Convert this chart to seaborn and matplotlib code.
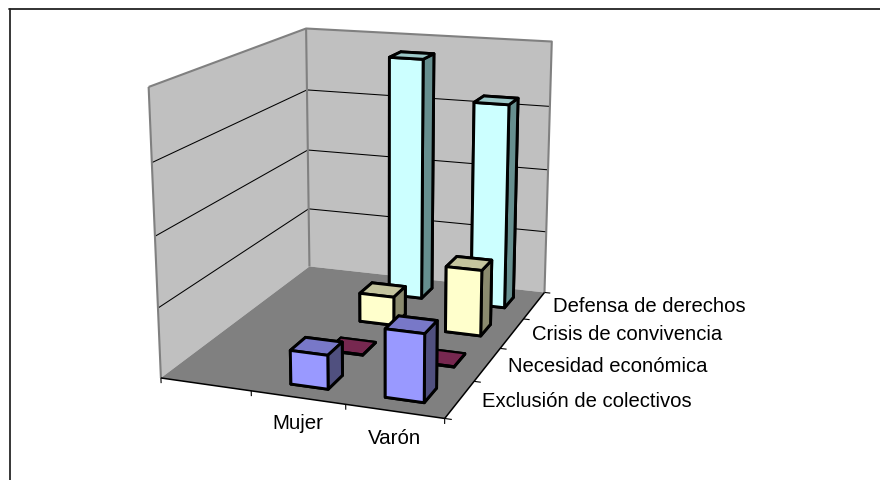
import numpy as np, matplotlib
matplotlib.use('Agg')
import matplotlib.pyplot as plt
import seaborn as sns
from matplotlib.lines import Line2D
from mpl_toolkits.mplot3d.art3d import Poly3DCollection

# --- data ---
genders = ["", "Mujer", "Varón"]
motives = ["Exclusión de colectivos", "Necesidad económica", "Crisis de convivencia", "Defensa de derechos"]
exclusion = [0, 9.6, 19]
necesidad = [0, 0.3, 0.3]
crisis = [0, 8.8, 20]
defensa = [0, 75.6, 63.5]
series = [exclusion, necesidad, crisis, defensa]
z_ticks = [0, 20, 40, 60, 80]

front_colors = ["#9999FF", "#993366", "#FFFFCC", "#CCFFFF"]
top_colors = ["#7878C8", "#772850", "#C4C49E", "#9CC8C8"]
side_colors = ["#50507F", "#50203C", "#8A8A6E", "#668F8F"]

sns.set_theme(style="white")
plt.rcParams['font.family'] = ['Liberation Sans', 'DejaVu Sans']

FW, FH = 880, 481
fig = plt.figure(figsize=(FW / 100, FH / 100), dpi=100, facecolor='white')
ax = fig.add_subplot(projection='3d')
ax.computed_zorder = False
ax.set_axis_off()
ax.set_xticks([])
ax.set_yticks([])
ax.set_zticks([])
for axis in (ax.xaxis, ax.yaxis, ax.zaxis):
    axis.label.set_visible(False)
    axis.offsetText.set_visible(False)
    axis.set_visible(False)
for t in (ax.title, ax._left_title, ax._right_title):
    t.set_visible(False)
ax.view_init(elev=15.15, azim=-69.68, roll=0.2)
ax.set_box_aspect((0.7625, 1, 0.7584), zoom=1.8946)
ax.set_proj_type('persp', focal_length=1)

nx, ny, zmax = len(genders), len(motives), z_ticks[-1]
WALL, FLOOR, EDGE = "#C0C0C0", "#808080", "#808080"

walls = [
    [(0, 0, 0), (0, ny, 0), (0, ny, zmax), (0, 0, zmax)],
    [(0, ny, 0), (nx, ny, 0), (nx, ny, zmax), (0, ny, zmax)],
]
ax.add_collection3d(Poly3DCollection(walls, facecolors=WALL, edgecolors='none', zorder=1, clip_on=False))
ax.add_collection3d(Poly3DCollection([[(0, 0, 0), (nx, 0, 0), (nx, ny, 0), (0, ny, 0)]],
                                     facecolors=FLOOR, edgecolors='none', zorder=1, clip_on=False))


def line(xs, ys, zs, color='black', lw=1.0, zorder=3):
    ax.plot(xs, ys, zs, color=color, lw=lw, zorder=zorder, clip_on=False, solid_capstyle='butt')


for z in z_ticks[1:-1]:
    line([0, 0, nx], [0, ny, ny], [z, z, z], lw=0.75, zorder=2)
# wall borders
line([0, 0], [0, 0], [0, zmax], EDGE, 1.5, 2)
line([0, 0, nx, nx], [0, ny, ny, ny], [zmax, zmax, zmax, 0], EDGE, 1.5, 2)
line([0, 0], [ny, ny], [0, zmax], EDGE, 1.5, 2)
# axis lines and ticks
line([0, nx, nx], [0, 0, ny], [0, 0, 0], lw=1.1)
for i in range(nx + 1):
    line([i, i], [0, 0], [0, -1.5], lw=0.8)
for j in range(ny + 1):
    line([nx, nx + 0.07], [j, j], [0, 0], lw=0.8)

# bars, from back to front
bw = 0.4
order = 10
for j in reversed(range(ny)):
    for i in range(1, nx):
        v = series[j][i]
        faces = [top_colors[j], top_colors[j], front_colors[j], side_colors[j], side_colors[j], side_colors[j]]
        ax.bar3d(i + 0.5 - bw / 2, j + 0.5 - bw / 2, 0, bw, bw, v, color=faces, shade=False,
                 edgecolor='black', linewidth=2.1 if v > 1 else 1.6, zorder=order, clip_on=False)
        order += 1

# category labels
for i, name in enumerate(genders):
    if name:
        ax.text(i + 0.5, 0, -7.2, name, ha='center', va='center', fontsize=14.8, color='black', zorder=60)
for j, name in enumerate(motives):
    ax.text(nx + 0.22, j + 0.5, 0.6, name, ha='left', va='center', fontsize=14.6, color='black', zorder=60)

ax.set_xlim(0, nx, view_margin=0)
ax.set_ylim(0, ny, view_margin=0)
ax.set_zlim(0, zmax, view_margin=0)

# place axes so that the camera matches the reference
s, tx, ty = 1496.48, 367.19, 201.41
vx0, vx1 = ax.viewLim.intervalx
vy0, vy1 = ax.viewLim.intervaly
ax.set_position([(tx + s * vx0) / FW, (FH - ty + s * vy0) / FH, s * (vx1 - vx0) / FW, s * (vy1 - vy0) / FH])

# open chart frame (left and top)
fig.add_artist(Line2D([9.5 / FW, 9.5 / FW], [0, 1 - 10 / FH], color='black', lw=1.1))
fig.add_artist(Line2D([9 / FW, 1], [1 - 10 / FH, 1 - 10 / FH], color='#222222', lw=1.3))

fig.savefig('out.png', dpi=100)
